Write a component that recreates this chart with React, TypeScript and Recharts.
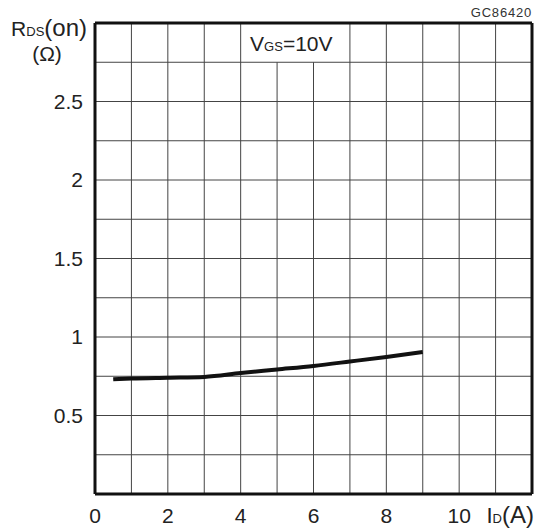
import React from "react";
import { LineChart, Line, XAxis, YAxis, ReferenceLine, ReferenceArea } from "recharts";

const currents = [0.5, 1, 2, 3, 4, 5, 6, 7, 8, 9];
const rdsOn = [0.731, 0.736, 0.741, 0.746, 0.77, 0.793, 0.816, 0.844, 0.873, 0.905];
const xTicks = [0, 2, 4, 6, 8, 10];
const yTicks = [0.5, 1, 1.5, 2, 2.5];
const gridX = [1, 2, 3, 4, 5, 6, 7, 8, 9, 10, 11];
const gridY = [0.25, 0.5, 0.75, 1, 1.25, 1.5, 1.75, 2, 2.25, 2.5, 2.75];
const xDomain = [0, 12];
const yDomain = [0, 3];
const labelBox = { x1: 4, x2: 7, y1: 2.75, y2: 3 };

const data = currents.map((c, i) => ({ id: c, r: rdsOn[i] }));

const FONT = "'Liberation Sans', Arial, sans-serif";
const INK = "#222";
const GRID = "#444";

const VgsLabel = (props: any) => {
  const vb = props.viewBox || {};
  const cx = vb.x + vb.width / 2;
  const cy = vb.y + vb.height / 2;
  return (
    <text x={cx - 4} y={cy + 8} textAnchor="middle" fontFamily={FONT} fill={INK} fontSize={21}>
      V<tspan fontSize={13}>GS</tspan>=10V
    </text>
  );
};

export default function App() {
  return (
    <div style={{ position: "absolute", left: 0, top: 0, width: 547, height: 530, background: "#fff" }}>
      <LineChart width={547} height={530} data={data} margin={{ top: 23, right: 15, left: 0, bottom: 0 }}>
        <XAxis
          dataKey="id"
          type="number"
          domain={xDomain}
          ticks={xTicks}
          axisLine={false}
          tickLine={false}
          tickMargin={8}
          height={36}
          interval={0}
          tick={{ fill: INK, fontSize: 21, fontFamily: FONT }}
        />
        <YAxis
          type="number"
          domain={yDomain}
          ticks={yTicks}
          axisLine={false}
          tickLine={false}
          tickMargin={6}
          width={95}
          interval={0}
          tick={{ fill: INK, fontSize: 21, fontFamily: FONT }}
        />
        {gridY.map((v) => (
          <ReferenceLine key={"gy" + v} y={v} stroke={GRID} strokeWidth={1} />
        ))}
        {gridX.map((v) =>
          v > labelBox.x1 && v < labelBox.x2 ? (
            <ReferenceLine
              key={"gx" + v}
              segment={[{ x: v, y: yDomain[0] }, { x: v, y: labelBox.y1 }]}
              stroke={GRID}
              strokeWidth={1}
            />
          ) : (
            <ReferenceLine key={"gx" + v} x={v} stroke={GRID} strokeWidth={1} />
          )
        )}
        <ReferenceArea
          x1={labelBox.x1}
          x2={labelBox.x2}
          y1={labelBox.y1}
          y2={labelBox.y2}
          fillOpacity={0}
          strokeOpacity={0}
          label={<VgsLabel />}
        />
        <ReferenceLine x={xDomain[0]} stroke="#111" strokeWidth={3} />
        <ReferenceLine x={xDomain[1]} stroke="#111" strokeWidth={3} />
        <ReferenceLine y={yDomain[0]} stroke="#111" strokeWidth={3} />
        <ReferenceLine y={yDomain[1]} stroke="#111" strokeWidth={3} />
        <Line
          type="monotone"
          dataKey="r"
          stroke="#111"
          strokeWidth={4}
          dot={false}
          isAnimationActive={false}
        />
      </LineChart>
      <svg width={547} height={530} style={{ position: "absolute", left: 0, top: 0, pointerEvents: "none" }}>
        <text x={87} y={36} textAnchor="end" fontFamily={FONT} fill={INK} fontSize={21}>
          R<tspan fontSize={13}>DS</tspan><tspan fontSize={24}>(on)</tspan>
        </text>
        <text x={47} y={61} textAnchor="middle" fontFamily={FONT} fill={INK} fontSize={21}>
          (Ω)
        </text>
        <text x={532} y={17} textAnchor="end" fontFamily={FONT} fill="#333" fontSize={13} letterSpacing={0.8}>
          GC86420
        </text>
        <text x={534} y={523} textAnchor="end" fontFamily={FONT} fill={INK} fontSize={22}>
          I<tspan fontSize={13}>D</tspan><tspan fontSize={24}>(A)</tspan>
        </text>
      </svg>
    </div>
  );
}
